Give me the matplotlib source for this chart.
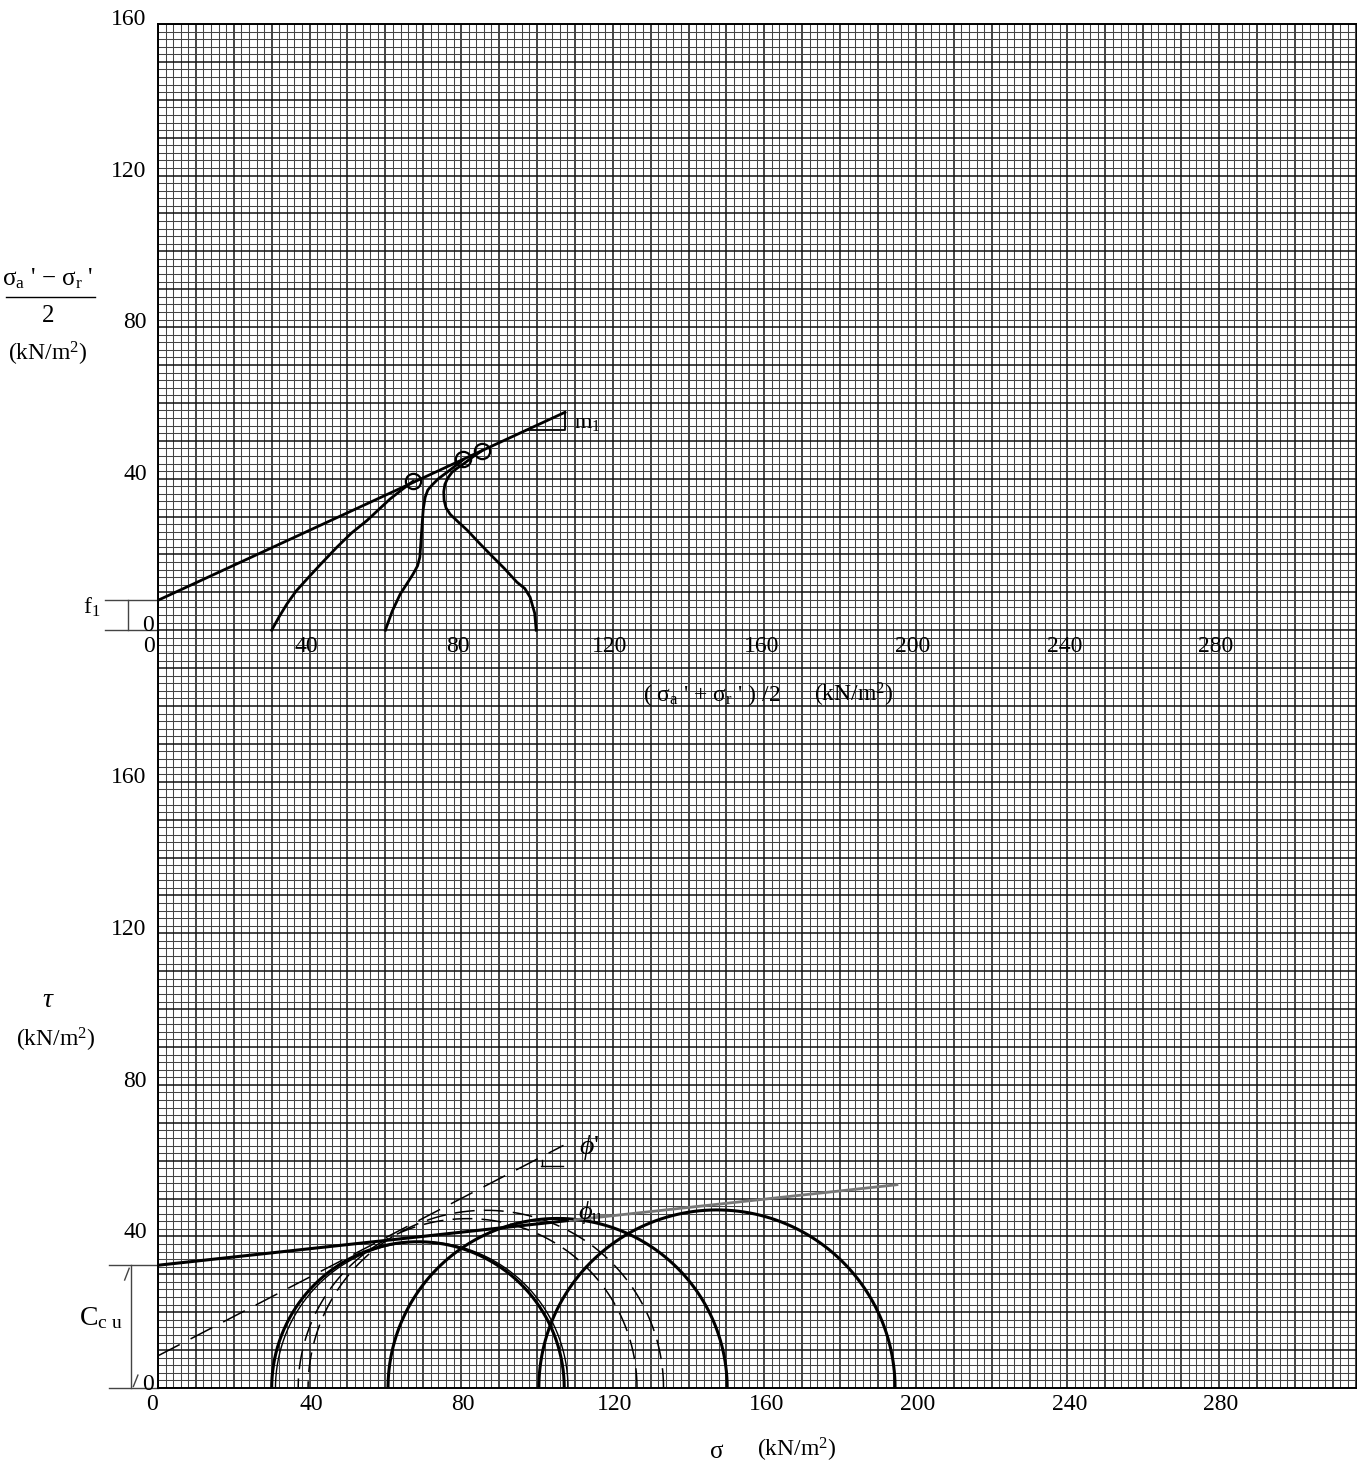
import numpy as np
import matplotlib.pyplot as plt

plt.rcParams['font.family'] = ['Liberation Serif', 'DejaVu Serif']
plt.rcParams['mathtext.fontset'] = 'custom'
plt.rcParams['mathtext.rm'] = 'Liberation Serif'
plt.rcParams['mathtext.it'] = 'Liberation Serif:italic'
plt.rcParams['mathtext.bf'] = 'Liberation Serif:bold'

# upper diagram (p'-q) sits on the same sheet, shifted up by this much
Q_OFF = 200

# effective stress paths, p' = (sa'+sr')/2, q = (sa'-sr')/2  [kN/m2]
path1_p = [30.0, 32.0, 34.0, 36.5, 39.3, 43.0, 47.2, 51.0, 55.2, 58.3, 61.2, 64.5, 67.3]
path1_q = [0.0, 3.6, 6.9, 10.4, 13.5, 17.5, 21.9, 25.6, 29.0, 31.9, 34.6, 37.2, 39.3]
path2_p = [60.0, 61.8, 63.9, 65.7, 67.3, 68.5, 69.1, 69.4, 69.7, 70.0, 70.5, 71.2, 72.3, 74.0, 76.3, 78.5, 80.5]
path2_q = [0.0, 5.0, 9.5, 12.3, 14.8, 17.0, 19.3, 23.5, 28.0, 32.0, 35.1, 37.0, 38.3, 40.0, 41.7, 43.4, 45.0]
path3_p = [99.8, 99.4, 98.2, 96.8, 94.7, 91.3, 87.6, 84.5, 81.6, 79.2, 77.1, 76.0, 75.5, 75.4, 75.7, 76.5, 77.6, 79.0, 80.5, 83.0, 85.5]
path3_q = [0.0, 4.5, 8.7, 11.0, 12.7, 16.4, 20.1, 23.3, 26.4, 28.6, 30.6, 32.3, 34.3, 36.5, 38.5, 40.2, 41.7, 42.8, 43.8, 45.7, 47.4]

# failure points and the Kf line
fail_p = [67.3, 80.5, 85.5]
fail_q = [39.3, 45.2, 47.4]
f1 = 7.9
m1 = 0.462
kf_end = 107.4

# Mohr circles (sigma3, sigma1)
tot_s3 = [30.0, 60.7, 100.5]
tot_s1 = [107.2, 150.2, 194.5]
eff_thin_s3 = [31.0]
eff_thin_s1 = [108.2]
eff_s3 = [37.0, 39.6]
eff_s1 = [126.4, 133.4]

# strength envelopes
cu = 32.4
tan_u = 0.109
c_eff = 8.5
tan_eff = 0.519

x_ticks = [0, 40, 80, 120, 160, 200, 240, 280]
y_ticks = [0, 40, 80, 120, 160]

FS = 17

fig = plt.figure(figsize=(13.57, 14.66), dpi=100)
ax = fig.add_axes([158 / 1357, 78 / 1466, 1199 / 1357, 1364 / 1466])
ax.set_xlim(0, 316.4)
ax.set_ylim(0, 360)
ax.set_xticks([])
ax.set_yticks([])
for s in ax.spines.values():
    s.set_linewidth(1.4)

# graph paper: fine lines every 2, bolder every 10
def paper_line(v, horizontal):
    if v % 10 == 0:
        kw = dict(color='#111111', lw=1.1)
    else:
        kw = dict(color='#444444', lw=0.75)
    if horizontal:
        ax.axhline(v, zorder=1, **kw)
    else:
        ax.axvline(v, zorder=1, **kw)

for v in np.arange(0, 317, 2):
    paper_line(v, False)
for v in np.arange(0, 361, 2):
    paper_line(v, True)

# ---- upper diagram: stress paths ----
for p, q in [(path1_p, path1_q), (path2_p, path2_q), (path3_p, path3_q)]:
    ax.plot(p, np.array(q) + Q_OFF, color='black', lw=2.0, zorder=3,
            solid_joinstyle='round')
ax.plot(fail_p, np.array(fail_q) + Q_OFF, 'o', ms=11, mfc='none',
        mec='black', mew=1.6, zorder=4)
kf_x = np.array([0, kf_end])
ax.plot(kf_x, f1 + m1 * kf_x + Q_OFF, color='black', lw=2.0, zorder=3)
# slope triangle m1
q_lo = 52.8
ax.plot([(q_lo - f1) / m1, kf_end, kf_end],
        [q_lo + Q_OFF, q_lo + Q_OFF, f1 + m1 * kf_end + Q_OFF],
        color='black', lw=1.3, zorder=3)
ax.text(kf_end + 2.5, 54.6 + Q_OFF, r'm$_1$', fontsize=16, va='center')

# f1 dimension
ax.plot([-14, 0], [f1 + Q_OFF, f1 + Q_OFF], color='#444444', lw=1.0, clip_on=False)
ax.plot([-14, 0], [Q_OFF, Q_OFF], color='#444444', lw=1.0, clip_on=False)
ax.plot([-7.9, -7.9], [Q_OFF, f1 + Q_OFF], color='#444444', lw=1.0, clip_on=False)
ax.text(-17.4, 6.0 + Q_OFF, r'f$_1$', fontsize=FS, ha='center', va='center')

# upper axis labels
for t in y_ticks:
    lbl_x = -3.0 if t else -1.0
    ax.text(lbl_x, t + Q_OFF + 1.2, str(t), fontsize=FS, ha='right', va='center')
for t in x_ticks:
    xx = t - 0.8 if t else -2.4
    ax.text(xx, Q_OFF - 4.4, str(t), fontsize=FS, ha='center', va='center')
ax.text(128, Q_OFF - 17, r"( $\mathrm{\sigma}_{\rm a}$ ' + $\mathrm{\sigma}_{\rm r}$ ' ) /2",
        fontsize=FS, ha='left', va='center')
ax.text(173, Q_OFF - 17, r'(kN/m$^2$)', fontsize=FS, ha='left', va='center')
ax.text(-29, 292.8, r"$\mathrm{\sigma}_{\rm a}$ ' $-$ $\mathrm{\sigma}_{\rm r}$ '", fontsize=18,
        ha='center', va='center')
ax.plot([-40.0, -16.5], [287.9, 287.9], color='black', lw=1.0, clip_on=False)
ax.text(-29, 283.0, '2', fontsize=18, ha='center', va='center')
ax.text(-29, 272.8, r'(kN/m$^2$)', fontsize=FS, ha='center', va='center')

# ---- lower diagram: Mohr circles ----
th = np.linspace(0, np.pi, 300)
for a, b in zip(tot_s3, tot_s1):
    c, r = (a + b) / 2, (b - a) / 2
    ax.plot(c + r * np.cos(th), r * np.sin(th), color='black', lw=2.2, zorder=3)
for a, b in zip(eff_thin_s3, eff_thin_s1):
    c, r = (a + b) / 2, (b - a) / 2
    ax.plot(c + r * np.cos(th), r * np.sin(th), color='black', lw=1.0, zorder=3)
for a, b in zip(eff_s3, eff_s1):
    c, r = (a + b) / 2, (b - a) / 2
    ax.plot(c + r * np.cos(th), r * np.sin(th), color='black', lw=1.1,
            dashes=(13, 6), zorder=3)

# total stress envelope (phi_u)
ax.plot([0, 108], [cu, cu + tan_u * 108], color='black', lw=2.2, zorder=3)
ax.plot([110, 195], [cu + tan_u * 110, cu + tan_u * 195], color='#777777',
        lw=2.0, zorder=3)
ax.plot([115.5, 119], [45.6, 45.6], color='#777777', lw=1.2, zorder=3)
ax.text(114, 46.4, r'$\phi_{\rm u}$', fontsize=19, ha='center', va='center')

# effective stress envelope (phi')
ax.plot([0, 107], [c_eff, c_eff + tan_eff * 107], color='black', lw=1.1,
        dashes=(16, 8), zorder=3)
ax.plot([101, 107], [58.5, 58.5], color='black', lw=1.0, zorder=3)
ax.plot([101.3, 101.3], [58.5, 60.3], color='black', lw=1.0, zorder=3)
ax.text(113.8, 63.5, r"$\phi$'", fontsize=20, ha='center', va='center')

# Cu dimension
ax.plot([-13, 0], [cu, cu], color='#444444', lw=1.0, clip_on=False)
ax.plot([-13, 0], [0, 0], color='#444444', lw=1.0, clip_on=False)
ax.plot([-7.1, -7.1], [0, cu], color='#444444', lw=1.0, clip_on=False)
ax.plot([-8.8, -7.6], [28.5, 31.6], color='#444444', lw=1.0, clip_on=False)
ax.plot([-6.5, -5.3], [0.4, 3.4], color='#444444', lw=1.0, clip_on=False)
ax.text(-15.0, 18.5, r'C$_{\rm c\ u}$', fontsize=20, ha='center', va='center')

# lower axis labels
for t in y_ticks:
    lbl_x = -3.0 if t else -1.0
    ax.text(lbl_x, t + 1.0, str(t), fontsize=FS, ha='right', va='center')
for t in x_ticks:
    xx = t + 0.5 if t else -1.6
    ax.text(xx, -4.3, str(t), fontsize=FS, ha='center', va='center')
ax.text(-29, 102.4, r'$\tau$', fontsize=20, ha='center', va='center')
ax.text(-27, 91.8, r'(kN/m$^2$)', fontsize=FS, ha='center', va='center')
ax.text(147.3, -16.9, r'$\mathrm{\sigma}$', fontsize=18, ha='center', va='center')
ax.text(158, -16.4, r'(kN/m$^2$)', fontsize=FS, ha='left', va='center')

fig.savefig('out.png', dpi=100)
